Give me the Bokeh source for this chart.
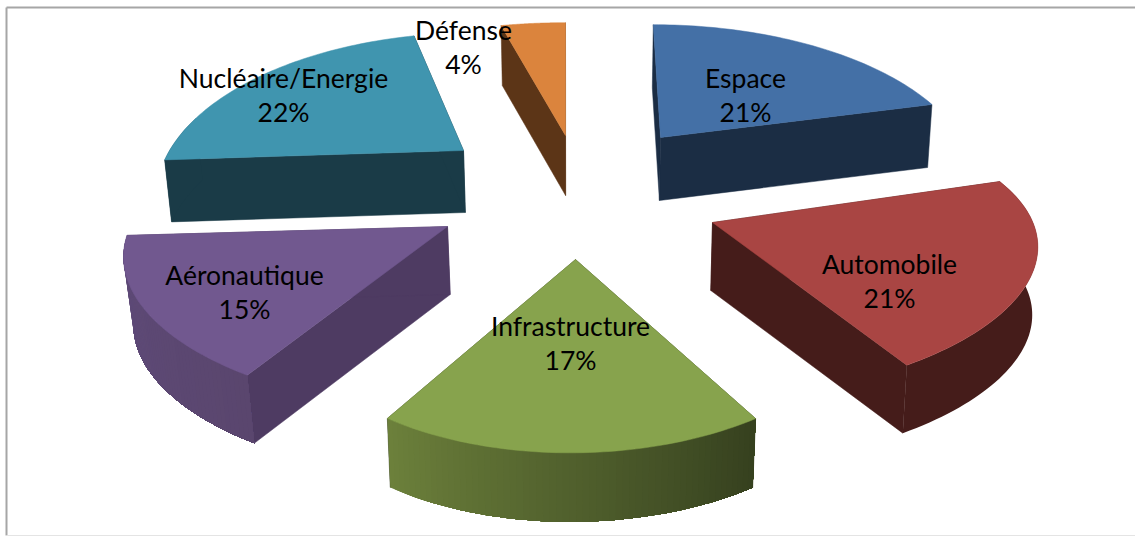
import math
from bokeh.plotting import figure
from bokeh.models import Range1d
from bokeh.core.properties import value
from bokeh.embed import file_html
from bokeh.resources import INLINE

# ---- data ----
categories = ["Espace", "Automobile", "Infrastructure", "Aéronautique", "Nucléaire/Energie", "Défense"]
shares = [21, 21, 17, 15, 22, 4]

# ---- colours ----
top_colors = ["#4470A6", "#A94543", "#87A34D", "#71588F", "#4095AF", "#DB843D"]
radial_colors = ["#1B2D44", "#451C1A", "#36411F", "#4E3B62", "#1A3B47", "#5C3517"]
wall_left = ["#1B2D44", "#451C1A", "#6C803B", "#5F4B7A", "#1A3B47", "#5C3517"]
wall_right = ["#1B2D44", "#451C1A", "#36411F", "#5A466E", "#1A3B47", "#5C3517"]

# ---- layout (pixels of the 1135x536 page), one entry per slice ----
# apex x, apex y, radius x, radius y, tilt, lean, wall depth, wall convergence
slice_layout = [
    (660, 137, 300, 141, 0.0, 9, 63, 0.012),
    (712, 222, 315, 133, 0.034, 0, 68, 0.012),
    (575, 259, 284, 145, 0.02, 4.4, 69, 0.016),
    (447, 226, 317, 139, 0.0, 14, 68, 0.022),
    (463, 150, 294, 147, 0.0, -12, 62, 0.017),
    (565, 135, 322, 141, 0.0, 0, 60, 0.018),
]
label_layout = [(745, 77), (889, 263), (570, 325), (244, 274), (283, 77), (463, 29.5)]
PERSPECTIVE = 0.25
LINE_GAP = 34


def project(theta, lay):
    ax, ay, rx, ry, tilt, lean = lay[:6]
    s = 1 / (1 + PERSPECTIVE * math.cos(theta))
    dx = rx * math.sin(theta) * s - lean * math.cos(theta) * s
    dy = -ry * math.cos(theta) * s - tilt * dx
    return ax + dx, ay + dy


def drop(pt, lay):
    return pt[0] - lay[7] * (pt[0] - 570), pt[1] + lay[6]


def mix(c0, c1, t):
    a = [int(c0[i:i + 2], 16) for i in (1, 3, 5)]
    b = [int(c1[i:i + 2], 16) for i in (1, 3, 5)]
    return "#%02X%02X%02X" % tuple(round(u + (v - u) * t) for u, v in zip(a, b))


W, H = 1135, 536
p = figure(width=W, height=H, output_backend="svg", toolbar_location=None,
           x_range=Range1d(0, W), y_range=Range1d(H, 0),
           min_border=0, outline_line_color=None)
p.xaxis.visible = False
p.yaxis.visible = False
p.xgrid.visible = False
p.ygrid.visible = False

# chart frame
p.line([6, 6], [7, 535], line_color="#A6A6A6", line_width=2)
p.line([6, 1135], [7, 7], line_color="#A6A6A6", line_width=2)
p.line([6, 1135], [535, 535], line_color="#E4E4E4", line_width=1)

total = sum(shares)
cum = 0
for i, (name, share) in enumerate(zip(categories, shares)):
    lay = slice_layout[i]
    start = 2 * math.pi * cum / total
    end = 2 * math.pi * (cum + share) / total
    cum += share
    apex = (lay[0], lay[1])
    n = 60
    thetas = [start + (end - start) * k / n for k in range(n + 1)]
    rim = [project(t, lay) for t in thetas]

    # radial walls
    for corner in (rim[0], rim[-1]):
        quad = [apex, corner, drop(corner, lay), drop(apex, lay)]
        p.patch([q[0] for q in quad], [q[1] for q in quad], fill_color=radial_colors[i],
                line_color=radial_colors[i], line_width=0.5)

    # outer wall: nested polygons painted from the whole wall down to its right end, so no seams
    front = [k for k in range(n + 1) if math.cos(thetas[k]) <= 0.25]
    if len(front) > 1:
        first = front[0]
        last = front[-1]
        for k in range(last, first, -1):
            top = rim[first:k + 1]
            bottom = [drop(q, lay) for q in reversed(top)]
            poly = top + bottom
            t = (last - k) / max(last - first - 1, 1)
            col = mix(wall_left[i], wall_right[i], t)
            p.patch([q[0] for q in poly], [q[1] for q in poly], fill_color=col, line_color=None)
            if wall_left[i] == wall_right[i]:
                break

    # top face
    xs = [apex[0]] + [q[0] for q in rim]
    ys = [apex[1]] + [q[1] for q in rim]
    p.patch(xs, ys, fill_color=top_colors[i], line_color=top_colors[i], line_width=0.5)

# labels on top
for (name, share), (lx, ly) in zip(zip(categories, shares), label_layout):
    p.text([lx], [ly], text=[name], text_font=value("Lato"), text_font_size="26.5px", text_color="#000000",
           text_align="center", text_baseline="middle")
    p.text([lx], [ly + LINE_GAP], text=[f"{share}%"], text_font=value("Lato"), text_font_size="26.5px",
           text_color="#000000", text_align="center", text_baseline="middle")

open("out.html", "w").write(file_html(p, INLINE))
